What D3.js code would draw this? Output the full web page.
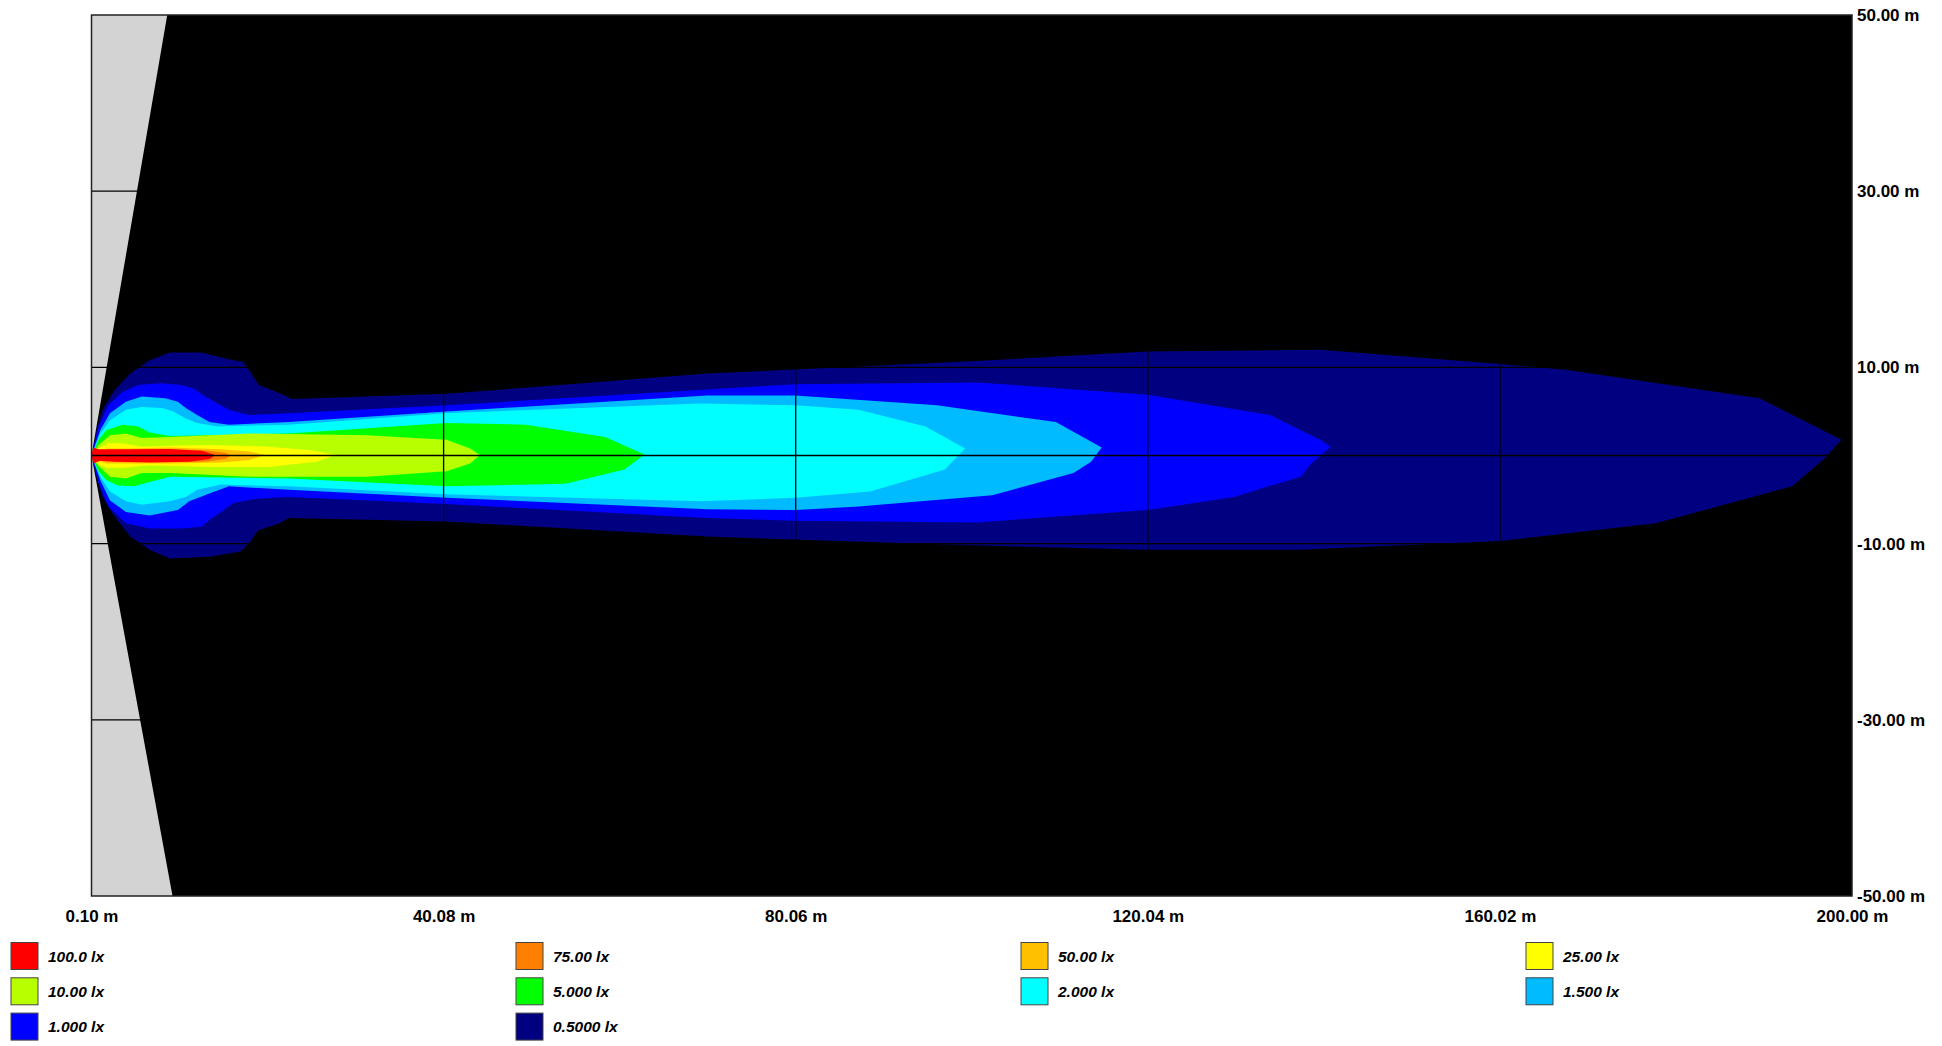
<!DOCTYPE html>
<html>
<head>
<meta charset="utf-8">
<script src="https://cdn.jsdelivr.net/npm/d3@7"></script>
<style>
  html, body { margin: 0; padding: 0; background: #fff; }
  svg { display: block; font-family: "Liberation Sans", Arial, sans-serif; }
</style>
</head>
<body>
<svg id="chart"></svg>
<script>
// iso-lux levels, legend order
const levels = ["100.0 lx", "75.00 lx", "50.00 lx", "25.00 lx", "10.00 lx", "5.000 lx", "2.000 lx", "1.500 lx", "1.000 lx", "0.5000 lx"];
const levelColors = ["#ff0000", "#ff8000", "#ffc000", "#ffff00", "#b8ff00", "#00ff00", "#00ffff", "#00bbff", "#0000ff", "#000080"];

const xTicks = [0.10, 40.08, 80.06, 120.04, 160.02, 200.00];
const yTicks = [50, 30, 10, -10, -30, -50];
const xGrid = [40.08, 80.06, 120.04, 160.02];
const yGrid = [30, 10, 0, -10, -30];

// area outside the calculation field (m)
const outside = [[0.1, 50], [8.7, 50], [0.1, 0], [9.3, -50], [0.1, -50]];

// isolines, [x m, y m], upper edge then lower edge
const iso0p5 = [[0.1,0],[0.67,2.9],[1.35,5.2],[2.7,7.4],[4.5,9.3],[6.7,10.8],[9.0,11.7],[12.6,11.7],[15.3,11.0],[17.3,10.6],[18.0,9.7],[19.1,8.0],[21.1,7.2],[22.9,6.4],[40.4,7.0],[70,9.3],[100,10.7],[120,11.8],[139.6,12.0],[160,10.4],[167.7,9.7],[189.5,6.5],[198.8,1.8],
  [196.9,-0.3],[193.2,-3.5],[177.7,-7.7],[160,-9.7],[137.3,-10.7],[120,-10.7],[100,-10.2],[70,-9.2],[40.4,-7.5],[22.5,-7.1],[21.5,-7.7],[19,-8.5],[18,-9.95],[17,-10.9],[13.5,-11.5],[9,-11.7],[6.7,-10.7],[4.5,-9.2],[2.7,-6.9],[1.35,-4.7],[0.67,-2.4]];
const iso1 = [[0.1,0],[0.9,3.3],[2.0,5.7],[3.6,7.2],[5.4,8.0],[7.9,8.2],[10.3,8.0],[11.7,7.6],[13.0,6.7],[14.4,5.9],[15.7,5.2],[18,4.6],[22.5,4.8],[40.4,5.7],[70,7.5],[80,8.1],[100.6,8.3],[120,6.9],[133.9,4.6],[139.6,1.8],[140.8,1.0],
  [138.6,-0.9],[137.4,-2.4],[129.8,-4.7],[120,-6.2],[100.6,-7.6],[80,-7.4],[70,-7.1],[40.4,-5.5],[22.5,-4.7],[18.9,-4.9],[16.2,-5.4],[14.8,-6.4],[13.5,-7.3],[12.6,-8.1],[10.3,-8.3],[6.7,-8.3],[4.0,-7.7],[2.0,-5.8],[0.9,-3.1]];
const iso1p5 = [[0.1,0],[1.1,2.9],[2.2,4.8],[4.0,6.1],[5.8,6.7],[8.5,6.5],[9.9,6.1],[10.8,5.4],[12.1,4.6],[13.5,3.8],[15.7,3.5],[22.5,3.8],[40.4,5.0],[70,6.8],[80,6.8],[96.1,5.7],[109.6,3.8],[114.8,0.9],
  [113.6,-0.7],[111.6,-2.0],[102.4,-4.5],[87.2,-5.8],[80,-6.2],[70,-6.1],[40.4,-4.8],[22.5,-3.9],[15.7,-3.5],[13.5,-4.3],[11.2,-5.2],[9.9,-6.2],[6.7,-6.8],[4.0,-6.4],[2.2,-5.1],[1.1,-2.8]];
const iso2 = [[0.1,0],[1.1,2.5],[2.2,4.0],[4.0,5.2],[5.8,5.5],[8.1,5.4],[9.4,5.0],[10.8,4.2],[12.1,3.7],[14.4,3.3],[22.5,3.5],[40.4,4.8],[69.2,5.9],[80,5.7],[87.2,5.2],[94.8,3.3],[99.3,0.8],
  [97.0,-1.6],[88.5,-4.1],[80,-4.8],[69.2,-5.2],[40.4,-4.4],[22.5,-3.5],[14.8,-3.3],[12.1,-3.9],[10.8,-4.7],[9.0,-5.2],[5.8,-5.6],[4.0,-5.2],[2.2,-4.1],[1.1,-2.4]];
const iso5 = [[0.1,0],[0.9,1.8],[1.8,2.9],[3.6,3.5],[5.4,3.3],[6.7,2.6],[9,2.2],[22.5,2.5],[40.4,3.7],[49.4,3.5],[58.4,2.1],[62.9,0.1],
  [60.6,-1.6],[53.9,-3.2],[40.4,-3.5],[22.5,-2.6],[9.0,-2.4],[6.7,-3.0],[4.9,-3.5],[3.1,-3.4],[1.8,-2.8],[0.9,-1.8]];
const iso10 = [[0.1,0],[0.9,1.2],[2.2,2.3],[4.0,2.5],[5.8,2.0],[9.0,2.1],[18,2.5],[31.4,2.3],[40.4,1.8],[43.1,0.8],[44.2,0.05],
  [43.1,-0.9],[40.4,-1.8],[31.4,-2.4],[18,-2.4],[9.0,-2.0],[5.8,-2.0],[4.0,-2.6],[2.2,-2.4],[0.9,-1.2]];
const iso25 = [[0.1,0],[0.9,0.8],[2.0,1.4],[3.6,1.4],[5.8,1.0],[9.0,1.1],[13.5,1.2],[20.2,1.0],[25.1,0.6],[27.8,0.05],
  [25.6,-0.7],[20.2,-1.3],[13.5,-1.3],[6.7,-1.1],[3.6,-1.4],[1.8,-1.4],[0.7,-0.9]];
const iso50 = [[0.1,0],[0.9,0.6],[1.8,0.8],[4.5,0.8],[9,0.9],[14.8,0.7],[18,0.45],[19.8,0.05],
  [18,-0.5],[14.8,-0.8],[9,-0.9],[4.5,-0.9],[1.8,-0.9],[0.7,-0.6]];
const iso75 = [[0.1,0],[1.35,0.55],[6.7,0.7],[13,0.6],[15.3,0.3],[15.9,0],
  [15.3,-0.4],[13,-0.7],[6.7,-0.7],[1.35,-0.65]];
const iso100 = [[0.1,0.3],[0.3,0.9],[0.9,0.7],[4.5,0.7],[9,0.75],[12.6,0.55],[13.9,0.15],[14.1,0],
  [13.5,-0.4],[11.2,-0.7],[6.7,-0.8],[2.7,-0.7],[1.1,-0.6],[0.3,-0.9],[0.1,-0.3]];

// same order as levels
const isolines = [iso100, iso75, iso50, iso25, iso10, iso5, iso2, iso1p5, iso1, iso0p5];

const width = 1942, height = 1046;
const margin = {top: 15, right: 90, bottom: 150, left: 91.5};

const svg = d3.select("#chart")
  .attr("width", width)
  .attr("height", height);

const x = d3.scaleLinear()
  .domain([0.1, 200])
  .range([margin.left, width - margin.right]);
const y = d3.scaleLinear()
  .domain([-50, 50])
  .range([height - margin.bottom, margin.top]);

const line = d3.line()
  .x(d => x(d[0]))
  .y(d => y(d[1]))
  .curve(d3.curveLinearClosed);

// background
svg.append("rect")
  .attr("x", x(0.1)).attr("y", y(50))
  .attr("width", x(200) - x(0.1)).attr("height", y(-50) - y(50))
  .attr("fill", "#000");

// outer band first
const bands = d3.range(isolines.length).reverse();
svg.selectAll(".iso")
  .data(bands)
  .enter()
  .append("path")
  .attr("class", "iso")
  .attr("fill", i => levelColors[i])
  .attr("d", i => line(isolines[i]));

svg.append("path")
  .attr("fill", "#d3d3d3")
  .attr("d", line(outside));

// grid
svg.selectAll(".hgrid")
  .data(yGrid)
  .enter()
  .append("line")
  .attr("x1", x(0.1)).attr("x2", x(200))
  .attr("y1", d => y(d)).attr("y2", d => y(d))
  .attr("stroke", "#000")
  .attr("stroke-width", 1.3);

svg.selectAll(".vgrid")
  .data(xGrid)
  .enter()
  .append("line")
  .attr("x1", d => x(d)).attr("x2", d => x(d))
  .attr("y1", y(50)).attr("y2", y(-50))
  .attr("stroke", "#000")
  .attr("stroke-width", 1.3);

svg.append("rect")
  .attr("x", x(0.1)).attr("y", y(50))
  .attr("width", x(200) - x(0.1)).attr("height", y(-50) - y(50))
  .attr("fill", "none")
  .attr("stroke", "#222")
  .attr("stroke-width", 1.5);

// axes
const xAxis = g => g
  .attr("transform", `translate(0,${y(-50)})`)
  .call(d3.axisBottom(x).tickValues(xTicks).tickSize(0).tickPadding(14)
    .tickFormat(d => d.toFixed(2) + " m"))
  .call(g => g.select(".domain").remove());

const yAxis = g => g
  .attr("transform", `translate(${x(200)},0)`)
  .call(d3.axisRight(y).tickValues(yTicks).tickSize(0).tickPadding(5)
    .tickFormat(d => d.toFixed(2) + " m"))
  .call(g => g.select(".domain").remove());

svg.append("g").call(xAxis);
svg.append("g").call(yAxis);

svg.selectAll(".tick text")
  .attr("font-family", "Liberation Sans, Arial, sans-serif")
  .attr("font-size", 17)
  .attr("font-weight", "bold")
  .attr("fill", "#000");

// legend
const legend = svg.selectAll(".legend")
  .data(levels)
  .enter()
  .append("g")
  .attr("transform", (d, i) => `translate(${11 + (i % 4) * 505},${956 + Math.floor(i / 4) * 35.3})`);

legend.append("rect")
  .attr("x", 0).attr("y", -13.5)
  .attr("width", 27).attr("height", 27)
  .attr("fill", (d, i) => levelColors[i])
  .attr("stroke", "#444")
  .attr("stroke-width", 1);

legend.append("text")
  .attr("x", 37).attr("y", 5.5)
  .attr("font-size", 15.5)
  .attr("font-weight", "bold")
  .attr("font-style", "italic")
  .text(d => d);
</script>
</body>
</html>
